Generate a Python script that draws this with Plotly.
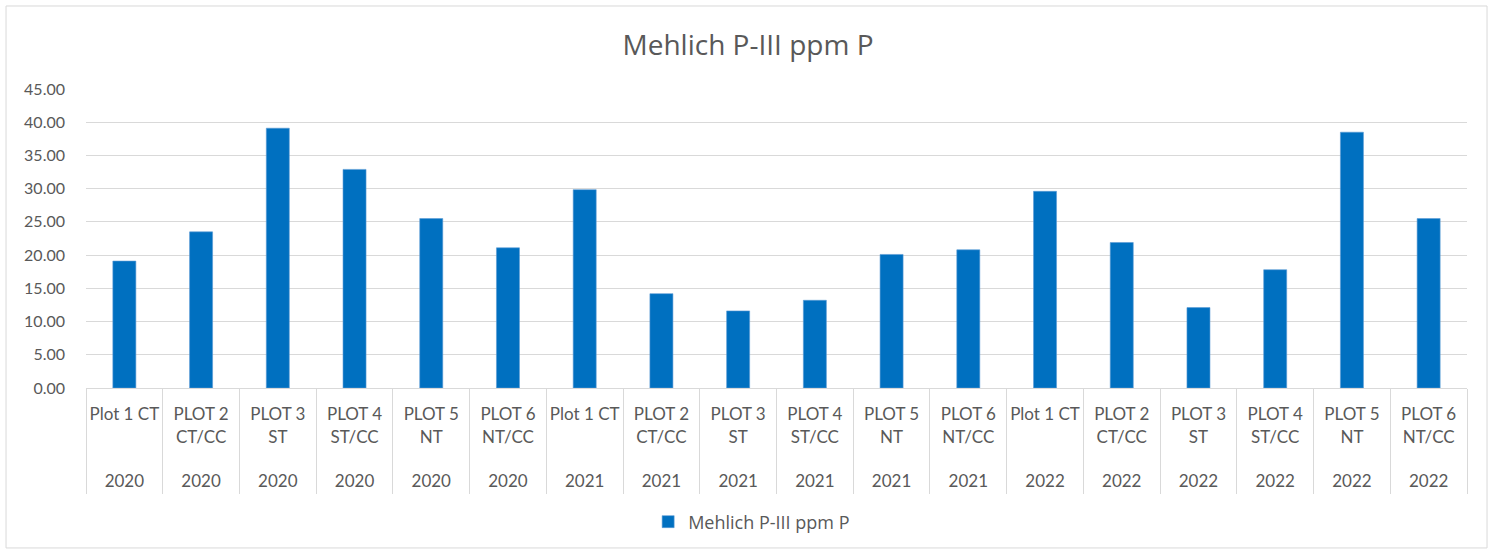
import plotly.graph_objects as go

years = ["2020"] * 6 + ["2021"] * 6 + ["2022"] * 6
plots = ["Plot 1 CT", "PLOT 2<br>CT/CC", "PLOT 3<br>ST", "PLOT 4<br>ST/CC", "PLOT 5<br>NT", "PLOT 6<br>NT/CC"] * 3
values = [19.1, 23.5, 39.1, 32.9, 25.5, 21.1,
          29.85, 14.2, 11.6, 13.2, 20.1, 20.8,
          29.6, 21.9, 12.1, 17.8, 38.5, 25.5]
series_name = "Mehlich P-III ppm P"
title_text = "Mehlich P-III ppm P"

cats = [f"c{i}" for i in range(len(values))]
labels = []
for p, y in zip(plots, years):
    n = p.count("<br>") + 1
    labels.append(p + "<br>" * (3 - n) + "<br>" + y)

GRAY = "#595959"
GRID = "#D9D9D9"
BLUE = "#0070C0"

fig = go.Figure()
fig.add_trace(go.Bar(x=cats, y=values, name=series_name,
                     marker=dict(color=BLUE, line=dict(color="#5B9BD5", width=0.6)),
                     hovertemplate="%{y:.2f}<extra></extra>"))
fig.add_trace(go.Bar(x=cats, y=values, xaxis="x2", showlegend=False, opacity=0, hoverinfo="skip"))

fig.update_layout(
    width=1496, height=554,
    margin=dict(l=86, r=29, t=89, b=166),
    paper_bgcolor="white", plot_bgcolor="white",
    bargap=0.7,
    font=dict(family="Open Sans, Lato, sans-serif", color=GRAY),
    title=dict(text=title_text, x=0.5, xanchor="center", y=1 - 45 / 554, yanchor="middle",
               font=dict(size=28, color=GRAY, family="Open Sans, sans-serif")),
    showlegend=True,
    legend=dict(orientation="h", x=0.482, xanchor="center", y=-0.448, yanchor="middle",
                font=dict(size=18, color=GRAY, family="Open Sans, sans-serif")),
    xaxis=dict(type="category", tickmode="array", tickvals=cats, ticktext=labels,
               tickfont=dict(size=17, color=GRAY, family="Lato, sans-serif"),
               showline=True, linecolor=GRID, linewidth=1, ticks="", showgrid=False,
               tickangle=0, fixedrange=True, ticklabelstandoff=11),
    xaxis2=dict(type="category", overlaying="x", matches="x", side="bottom", showticklabels=False,
                ticks="outside", tickson="boundaries", ticklen=105, tickcolor=GRID, tickwidth=1,
                showgrid=False, showline=False),
    yaxis=dict(range=[0, 45], dtick=5, tickformat=".2f", showgrid=True, gridcolor=GRID, gridwidth=1,
               zeroline=False, ticks="", ticklabelstandoff=20,
               tickfont=dict(size=16, color=GRAY, family="Lato, sans-serif")),
    shapes=[dict(type="rect", xref="paper", yref="paper", x0=-0.0579, x1=1.0145, y0=-0.535, y1=1.2776,
                 line=dict(color=GRID, width=1), fillcolor="rgba(0,0,0,0)", layer="below")],
)

fig.write_html("out.html", config={"displayModeBar": False},
               post_script="document.body.style.margin='0';")
